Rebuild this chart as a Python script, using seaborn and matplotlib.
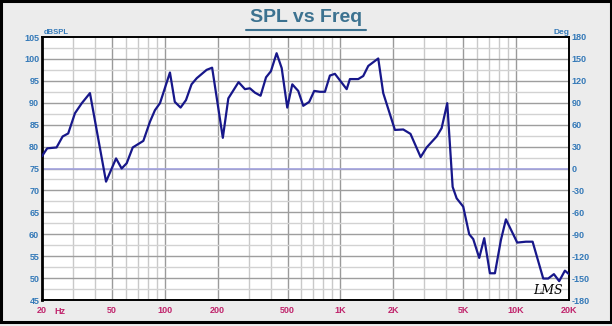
import numpy as np
import pandas as pd
import matplotlib
matplotlib.use("Agg")
import matplotlib.pyplot as plt
import seaborn as sns
from matplotlib.patches import Rectangle

freq_hz = [20, 21.4, 24.2, 26.2, 28.2, 30.8, 33.7, 37.5, 46.3, 52.8, 56.8, 60.7,
           65.7, 75.5, 82.4, 87.9, 93.9, 107, 114, 123, 132, 142, 152, 173, 186,
           214, 230, 263, 286, 305, 326, 351, 377, 402, 433, 463, 498, 532, 575,
           614, 664, 709, 764, 816, 871, 930, 1085, 1132, 1262, 1348, 1440, 1641,
           1752, 2042, 2278, 2504, 2861, 3094, 3528, 3766, 4054, 4352, 4586, 4998,
           5408, 5700, 6166, 6584, 7092, 7574, 8194, 8750, 10146, 11368, 12412,
           14266, 15230, 16408, 17588, 18954, 20000]
spl_db = [77.8, 79.6, 79.8, 82.3, 83.0, 87.6, 89.9, 92.2, 72.0, 77.3, 75.0, 76.2,
          79.8, 81.3, 85.7, 88.3, 89.9, 96.9, 90.2, 88.9, 90.6, 94.2, 95.6, 97.5, 98.0,
          82.0, 91.0, 94.7, 93.1, 93.3, 92.3, 91.6, 95.8, 97.2, 101.3, 97.9, 88.9,
          94.2, 92.7, 89.3, 90.2, 92.7, 92.5, 92.5, 96.2, 96.6, 93.1, 95.4, 95.4,
          96.1, 98.4, 100.1, 92.2, 83.8, 83.9, 82.9, 77.6, 79.8, 82.3, 84.2, 89.9,
          70.8, 68.2, 66.3, 60.0, 58.9, 54.6, 59.1, 51.1, 51.1, 58.7, 63.4, 58.1,
          58.3, 58.3, 49.9, 49.9, 50.9, 49.3, 51.7, 50.9]

x_ticks = [20, 50, 100, 200, 500, 1000, 2000, 5000, 10000, 20000]
x_tick_labels = ["20", "50", "100", "200", "500", "1K", "2K", "5K", "10K", "20K"]
y_ticks = [45, 50, 55, 60, 65, 70, 75, 80, 85, 90, 95, 100, 105]
deg_ticks = [-180, -150, -120, -90, -60, -30, 0, 30, 60, 90, 120, 150, 180]

df = pd.DataFrame({"Frequency": freq_hz, "SPL": spl_db})

sns.set_style("white")
plt.rcParams["font.family"] = ["Liberation Sans", "DejaVu Sans"]

fig = plt.figure(figsize=(6.12, 3.26), dpi=100)
fig.patch.set_facecolor("#ECECEC")
fig.patches.append(Rectangle((0.002, 0.012), 0.996, 0.984, transform=fig.transFigure,
                             fill=False, edgecolor="black", linewidth=2.2))

ax = fig.add_axes([42/612, 1-300/326, 527/612, 263/326])
ax.set_facecolor("white")
ax.set_xscale("log")
ax.set_xlim(20, 20000)
ax.set_ylim(45, 105)

# grid
minor_x = []
for dec in [10, 100, 1000, 10000]:
    for m in range(1, 10):
        v = m * dec
        if 20 <= v <= 20000 and v not in x_ticks:
            minor_x.append(v)
for v in minor_x:
    ax.axvline(v, color="#C9C9C9", lw=1.0, zorder=0)
for v in x_ticks[1:-1]:
    ax.axvline(v, color="#9A9A9A", lw=1.0, zorder=0)
for v in np.arange(47.5, 105, 5):
    ax.axhline(v, color="#D2D2D2", lw=1.0, zorder=0)
for v in y_ticks[1:-1]:
    ax.axhline(v, color="#9E9E9E", lw=1.0, zorder=0)
ax.axhline(75, color="#A3A3E0", lw=1.2, zorder=1)

sns.lineplot(data=df, x="Frequency", y="SPL", ax=ax, color="#17178A", lw=1.6,
             zorder=3, legend=False)

ax.set_xticks(x_ticks)
ax.set_xticklabels(x_tick_labels)
ax.xaxis.set_minor_locator(matplotlib.ticker.NullLocator())
ax.set_yticks(y_ticks)
ax.set_yticklabels([str(v) for v in y_ticks])
ax.tick_params(axis="x", colors="#C0246C", labelsize=6.5, length=0, pad=4)
ax.tick_params(axis="y", colors="#3479B8", labelsize=6.5, length=0, pad=2)
for lbl in ax.get_xticklabels() + ax.get_yticklabels():
    lbl.set_fontweight("bold")
ax.set_xlabel("")
ax.set_ylabel("")
for s in ax.spines.values():
    s.set_color("black")
    s.set_linewidth(1.4)
ax.spines["left"].set_linewidth(2.0)

ax2 = ax.twinx()
ax2.set_ylim(-180, 180)
ax2.set_yticks(deg_ticks)
ax2.set_yticklabels([str(v) for v in deg_ticks])
ax2.tick_params(axis="y", colors="#3479B8", labelsize=6.5, length=0, pad=2)
for lbl in ax2.get_yticklabels():
    lbl.set_fontweight("bold")
for s in ax2.spines.values():
    s.set_visible(False)

fig.text(54/612, 1-311/326, "Hz", color="#C0246C", fontsize=6.5, fontweight="bold",
         ha="left", va="center")
fig.text(56/612, 1-32/326, "dBSPL", color="#3479B8", fontsize=5.5, fontweight="bold",
         ha="center", va="center")
fig.text(562/612, 1-32/326, "Deg", color="#3479B8", fontsize=6, fontweight="bold",
         ha="center", va="center")
t = fig.text(306/612, 1-18/326, "SPL vs Freq", color="#3C7290", fontsize=14,
             fontweight="bold", ha="center", va="center")
fig.add_artist(plt.Line2D([246/612, 366/612], [1-30/326, 1-30/326],
                          transform=fig.transFigure, color="#3C7290", lw=1.5))
ax.text(0.96, 0.035, "LMS", transform=ax.transAxes, fontsize=9, style="italic",
        family="DejaVu Serif", color="black", ha="center", va="center")

fig.savefig("out.png", dpi=100, facecolor=fig.get_facecolor())
